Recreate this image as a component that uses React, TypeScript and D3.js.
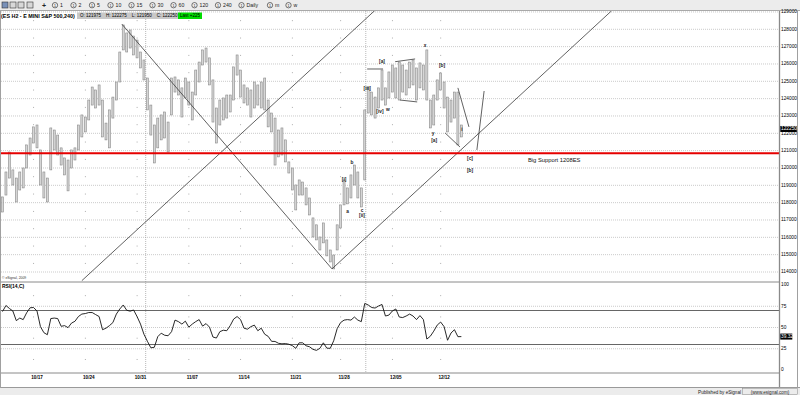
import React from "react";
import * as d3 from "d3";

// ES H2 240 min bars (index points)
const barHigh = [
  1183.3, 1197.7, 1209.2, 1198.9, 1194.2, 1197.7, 1200.0, 1213.3, 1217.3, 1223.7,
  1224.8, 1210.4, 1197.7, 1194.2, 1223.1, 1221.9, 1219.0, 1211.6, 1205.8, 1204.6,
  1210.4, 1211.6, 1224.8, 1230.6, 1229.4, 1239.2, 1246.7, 1245.0, 1247.9, 1239.2,
  1225.9, 1233.5, 1240.9, 1249.6, 1266.9, 1282.5, 1277.9, 1279.6, 1276.1, 1273.8,
  1266.9, 1262.3, 1251.9, 1236.3, 1224.8, 1228.8, 1230.6, 1232.3, 1226.5, 1251.9,
  1252.5, 1250.8, 1246.2, 1251.9, 1249.6, 1243.8, 1256.5, 1261.1, 1268.1, 1269.2,
  1263.5, 1250.8, 1234.6, 1239.2, 1240.4, 1242.1, 1242.1, 1258.3, 1265.2, 1256.5,
  1247.9, 1246.2, 1245.0, 1249.6, 1247.9, 1249.6, 1251.9, 1239.2, 1231.7, 1228.8,
  1221.9, 1223.1, 1216.2, 1203.5, 1200.0, 1190.2, 1193.1, 1191.9, 1188.5, 1182.7,
  1171.2, 1167.2, 1160.2, 1168.3, 1158.5, 1152.7, 1149.8, 1167.2, 1178.7, 1193.1,
  1188.5, 1196.0, 1201.7, 1197.7, 1188.5, 1233.5, 1246.7, 1243.8, 1240.9, 1246.2,
  1256.5, 1246.2, 1255.4, 1259.4, 1257.7, 1261.1, 1259.4, 1256.5, 1261.1, 1262.3,
  1257.7, 1260.6, 1259.4, 1268.1, 1239.2, 1242.1, 1250.8, 1254.8, 1249.6, 1240.9,
  1239.2, 1243.8, 1243.8, 1224.8,
];

const barLow = [
  1174.6, 1184.4, 1194.2, 1190.2, 1180.4, 1187.3, 1188.5, 1200.0, 1207.5, 1214.4,
  1211.6, 1190.2, 1182.7, 1180.4, 1198.9, 1210.4, 1207.5, 1201.7, 1196.0, 1186.8,
  1200.0, 1204.6, 1210.4, 1217.9, 1220.8, 1227.7, 1236.3, 1234.6, 1236.3, 1217.9,
  1216.2, 1211.6, 1228.8, 1239.2, 1249.6, 1268.1, 1266.9, 1269.2, 1265.2, 1263.5,
  1257.7, 1250.8, 1233.5, 1219.0, 1202.9, 1211.6, 1216.2, 1217.3, 1209.2, 1230.6,
  1243.8, 1242.1, 1229.4, 1240.4, 1236.3, 1227.7, 1242.1, 1249.6, 1259.4, 1261.1,
  1247.9, 1226.5, 1214.4, 1224.8, 1227.7, 1228.8, 1232.3, 1239.2, 1253.6, 1240.9,
  1237.5, 1236.3, 1229.4, 1234.6, 1236.3, 1234.6, 1233.5, 1223.7, 1220.8, 1201.7,
  1206.4, 1207.5, 1203.5, 1197.1, 1187.3, 1175.8, 1184.4, 1184.4, 1178.7, 1172.9,
  1160.2, 1158.5, 1152.7, 1156.8, 1149.3, 1145.8, 1141.8, 1152.7, 1165.4, 1178.7,
  1179.3, 1182.7, 1190.2, 1182.7, 1177.5, 1193.1, 1231.7, 1230.6, 1228.8, 1234.6,
  1239.2, 1236.3, 1240.4, 1243.8, 1240.4, 1239.2, 1243.8, 1242.1, 1246.2, 1247.9,
  1239.2, 1246.2, 1245.0, 1239.2, 1223.1, 1224.8, 1239.2, 1245.0, 1234.6, 1220.8,
  1226.5, 1228.8, 1213.3, 1217.9,
];

const rsi14 = [
  68.8, 75.9, 72.4, 69.4, 58.1, 61.1, 59.3, 67.3, 73.2, 73.5,
  69.4, 51.0, 43.9, 41.5, 60.5, 61.1, 60.5, 51.4, 52.2, 49.8,
  55.2, 57.3, 62.9, 65.8, 66.4, 67.6, 67.6, 65.2, 62.9, 47.4,
  49.2, 52.2, 55.8, 65.8, 71.8, 76.5, 70.3, 69.2, 70.6, 62.9,
  54.0, 42.1, 33.8, 26.1, 26.7, 39.2, 43.3, 40.9, 40.3, 45.1,
  58.7, 56.9, 54.0, 57.5, 50.4, 54.0, 56.9, 59.3, 51.6, 54.6,
  50.4, 38.8, 37.6, 45.1, 46.8, 46.2, 52.2, 59.9, 62.9, 59.3,
  49.2, 48.0, 51.0, 52.8, 46.2, 49.2, 42.1, 39.6, 33.7, 33.6,
  31.4, 30.8, 31.1, 30.3, 28.7, 25.5, 32.0, 32.0, 28.5, 27.3,
  24.3, 23.1, 25.5, 32.0, 25.7, 25.5, 34.4, 48.6, 55.8, 58.7,
  59.3, 58.7, 62.3, 58.7, 56.9, 78.3, 76.5, 73.5, 72.9, 75.3,
  77.1, 63.5, 64.6, 69.4, 71.8, 62.3, 61.7, 63.5, 65.8, 63.5,
  59.3, 64.0, 59.3, 36.4, 39.7, 45.7, 52.8, 56.4, 51.0, 35.0,
  43.5, 47.4, 39.2, 39.3,
];

const priceTicks = [1140, 1150, 1160, 1170, 1180, 1190, 1200, 1210, 1220, 1230, 1240, 1250, 1260, 1270, 1280, 1290];
const rsiTicks = [0, 25, 50, 75, 100];
const rsiBands = [30, 70];
const dateLabels = ["10/17", "10/24", "10/31", "11/07", "11/14", "11/21", "11/28", "12/05", "12/12"];
const dateBars = [9, 24, 39, 54, 69, 84, 98, 113, 127];
const monthBreakBars = [41.5, 105.3];
const supportLevel = 1208.5;
const lastClose = 1222.5;
const lastRsi = 39.32;

// [bar1, price1, bar2, price2]
const trendLines = [
  [23, 1135, 108, 1291],
  [34.6, 1283, 95.5, 1141.8],
  [95.5, 1141.8, 176.5, 1290.6],
];
const waveLines = [
  [105.7, 1257.1, 110.3, 1257.1],
  [113.8, 1261.3, 119.6, 1262.9],
  [115.2, 1239.2, 120.2, 1238.1],
  [128.3, 1220.2, 132.6, 1212.1],
  [132, 1246.2, 135.2, 1223.7],
  [137.5, 1210.4, 139.6, 1244.4],
];
const waveLabels = ["[i]", "a", "b", "c", "[ii]", "[iii]", "[iv]", "w", "[a]", "x", "[b]", "y", "[a]", "i", "[c]", "[b]"];
const waveLabelBars = [99, 100, 101.3, 104.2, 104.2, 105.7, 109.4, 111.7, 110, 122.5, 127.4, 124.8, 125.1, 133.2, 135.5, 135.5];
const waveLabelPrices = [1193.1, 1174.6, 1202.9, 1175.2, 1172.3, 1245.6, 1232.3, 1233.5, 1261.1, 1270.4, 1258.8, 1219.6, 1215.6, 1221.9, 1205.2, 1198.3];

const toolbarLabels = ["1", "2", "5", "10", "15", "30", "60", "120", "240", "Daily", "m", "w"];

const FONT = "'Liberation Sans', Arial, sans-serif";

export default function App() {
  const W = 800;
  const H = 395;
  const plotR = 779;
  const mainTop = 11;
  const mainBottom = 282;
  const rsiBottom = 373;

  const n = barHigh.length;
  const x = d3.scaleLinear().domain([0, n - 1]).range([2.5, 2.5 + 3.45 * (n - 1)]);
  const y = d3.scaleLinear().domain([1140, 1280]).range([272, 29.3]);
  const yr = d3.scaleLinear().domain([0, 100]).range([370, 285]);

  const rsiPath = d3.line<number>().x((_, i) => x(i)).y((d) => yr(d))(rsi14) || "";

  // sparse dots along weekly verticals (midway between horizontal grid lines)
  const priceMids = d3.pairs(priceTicks).map(([a, b]) => (a + b) / 2);
  const rsiMids = d3.pairs(rsiTicks).map(([a, b]) => (a + b) / 2);

  let tx = 52;
  const toolbarItems = toolbarLabels.map((lab) => {
    const item = { lab, x: tx };
    tx += 16 + lab.length * 2.5;
    return item;
  });

  return (
    <svg
      width={W}
      height={H}
      style={{ position: "absolute", left: 0, top: 0, background: "#fff", fontFamily: FONT }}
    >
      <defs>
        <clipPath id="mainClip">
          <rect x={0} y={mainTop} width={plotR} height={mainBottom - mainTop} />
        </clipPath>
      </defs>

      {/* toolbar */}
      <rect x={0} y={0} width={W} height={10.5} fill="#ececec" />
      <line x1={0} x2={W} y1={10.5} y2={10.5} stroke="#a8a8a8" />
      {[2, 10, 18, 27].map((ix, k) => (
        <rect key={k} x={ix} y={2} width={6} height={6} fill={k === 0 ? "#7890b8" : "#d8d8d8"} stroke="#333" strokeWidth={0.6} />
      ))}
      <text x={42} y={8} fontSize={7} fontWeight="bold" fill="#222">+</text>
      {toolbarItems.map((t) => (
        <g key={t.lab}>
          <circle cx={t.x + 3} cy={5.2} r={2.7} fill="none" stroke="#222" strokeWidth={0.6} />
          <text x={t.x + 3} y={6.9} fontSize={3.6} textAnchor="middle" fill="#222">1</text>
          <text x={t.x + 8} y={7.2} fontSize={5.2} fill="#222">{t.lab}</text>
        </g>
      ))}

      {/* price grid */}
      {priceTicks.map((p) => (
        <line key={p} x1={1} x2={plotR} y1={y(p)} y2={y(p)} stroke="#b4b4b4" strokeWidth={0.7} strokeDasharray="1,1" />
      ))}
      {dateBars.map((b) =>
        priceMids.map((p) => (
          <rect key={`${b}-${p}`} x={x(b) - 0.4} y={y(p) - 0.4} width={0.9} height={0.9} fill="#9a9a9a" />
        ))
      )}
      {dateBars.map((b) =>
        rsiMids.map((r) => (
          <rect key={`r${b}-${r}`} x={x(b) - 0.4} y={yr(r) - 0.4} width={0.9} height={0.9} fill="#9a9a9a" />
        ))
      )}
      {monthBreakBars.map((b) => (
        <line key={b} x1={x(b)} x2={x(b)} y1={mainTop} y2={rsiBottom} stroke="#9a9a9a" strokeWidth={0.7} strokeDasharray="1,1" />
      ))}

      {/* header */}
      <text x={1} y={17.6} fontSize={5.4} fontWeight="bold" fill="#000">(ES H2 - E MINI S&amp;P 500,240)</text>
      <rect x={77} y={12.5} width={101} height={6.5} fill="#c8c8c8" />
      <text x={80} y={17.4} fontSize={4.5} fill="#000" xmlSpace="preserve">
        O: 121975    H: 122275    L: 121950    C: 122250
      </text>
      <rect x={178} y={12.5} width={24} height={6.5} fill="#00dd00" />
      <text x={190} y={17.4} fontSize={4.5} fill="#000" textAnchor="middle">Last +225</text>

      {/* bars */}
      <g clipPath="url(#mainClip)">
        {barHigh.map((h, i) => (
          <rect
            key={i}
            x={x(i) - 1}
            y={y(h)}
            width={2}
            height={Math.max(1, y(barLow[i]) - y(h))}
            fill="#d6d6d6"
            stroke="#8a8a8a"
            strokeWidth={0.6}
          />
        ))}
        {trendLines.map((l, k) => (
          <line key={k} x1={x(l[0])} y1={y(l[1])} x2={x(l[2])} y2={y(l[3])} stroke="#3a3a3a" strokeWidth={0.8} />
        ))}
        {waveLines.map((l, k) => (
          <line key={k} x1={x(l[0])} y1={y(l[1])} x2={x(l[2])} y2={y(l[3])} stroke="#3a3a3a" strokeWidth={0.8} />
        ))}
        <line x1={0} x2={plotR} y1={y(supportLevel)} y2={y(supportLevel)} stroke="#e60000" strokeWidth={2} />
      </g>

      {waveLabels.map((lab, k) => (
        <text
          key={k}
          x={x(waveLabelBars[k])}
          y={y(waveLabelPrices[k])}
          fontSize={4.8}
          fontWeight="bold"
          textAnchor="middle"
          dominantBaseline="middle"
          fill="#222"
        >
          {lab}
        </text>
      ))}
      <text x={x(152.3)} y={y(1204.1)} fontSize={5.8} fill="#111" dominantBaseline="middle">
        Big Support 1208ES
      </text>
      <text x={2} y={279} fontSize={3.4} fill="#333">© eSignal, 2009</text>

      {/* RSI panel */}
      <line x1={0} x2={plotR} y1={mainBottom} y2={mainBottom} stroke="#8a8a8a" strokeWidth={1} />
      {rsiTicks.filter((t) => t > 0 && t < 100).map((t) => (
        <line key={t} x1={1} x2={plotR} y1={yr(t)} y2={yr(t)} stroke="#b4b4b4" strokeWidth={0.7} strokeDasharray="1,1" />
      ))}
      {rsiBands.map((t) => (
        <line key={t} x1={1} x2={plotR} y1={yr(t)} y2={yr(t)} stroke="#666" strokeWidth={1.1} />
      ))}
      <path d={rsiPath} fill="none" stroke="#111" strokeWidth={0.9} />
      <text x={2} y={288} fontSize={5} fontWeight="bold" fill="#000">RSI(14,C)</text>
      <line x1={0} x2={plotR} y1={rsiBottom} y2={rsiBottom} stroke="#8a8a8a" strokeWidth={1} />

      {/* date axis */}
      {dateLabels.map((d, k) => (
        <text key={d} x={x(dateBars[k]) + 3.5} y={379} fontSize={4.6} fontWeight="bold" textAnchor="middle" fill="#000">
          {d}
        </text>
      ))}
      <line x1={0} x2={W} y1={387.5} y2={387.5} stroke="#9a9a9a" />
      <rect x={0} y={388} width={W} height={7} fill="#ececec" />
      <text x={741} y={393.5} fontSize={4.6} fill="#222" textAnchor="end">Published by eSignal</text>
      <rect x={742.5} y={388.6} width={55} height={6} fill="none" stroke="#888" strokeWidth={0.5} />
      <text x={770} y={393.5} fontSize={4.6} fill="#222" textAnchor="middle">(www.esignal.com)</text>

      {/* right axis */}
      <line x1={plotR + 0.5} x2={plotR + 0.5} y1={mainTop} y2={387} stroke="#8a8a8a" strokeWidth={1.3} />
      <line x1={797.5} x2={797.5} y1={mainTop} y2={388} stroke="#a0a0a0" strokeWidth={1} />
      <line x1={0.5} x2={0.5} y1={mainTop} y2={388} stroke="#a0a0a0" strokeWidth={1} />
      {priceTicks.map((p) => (
        <text key={p} x={781} y={y(p)} fontSize={4.8} fill="#000" dominantBaseline="middle">
          {d3.format("d")(p * 100)}
        </text>
      ))}
      <rect x={780.3} y={y(lastClose) - 3} width={16.5} height={6} fill="#000" />
      <text x={781} y={y(lastClose)} fontSize={4.8} fill="#fff" dominantBaseline="middle">
        {d3.format("d")(lastClose * 100)}
      </text>
      {rsiTicks.map((t) => (
        <text key={t} x={781} y={yr(t)} fontSize={4.8} fill="#000" dominantBaseline="middle">
          {t}
        </text>
      ))}
      <rect x={780.3} y={yr(lastRsi) - 3} width={12} height={6} fill="#000" />
      <text x={781} y={yr(lastRsi)} fontSize={4.8} fill="#fff" dominantBaseline="middle">
        {d3.format(".2f")(lastRsi)}
      </text>
    </svg>
  );
}
